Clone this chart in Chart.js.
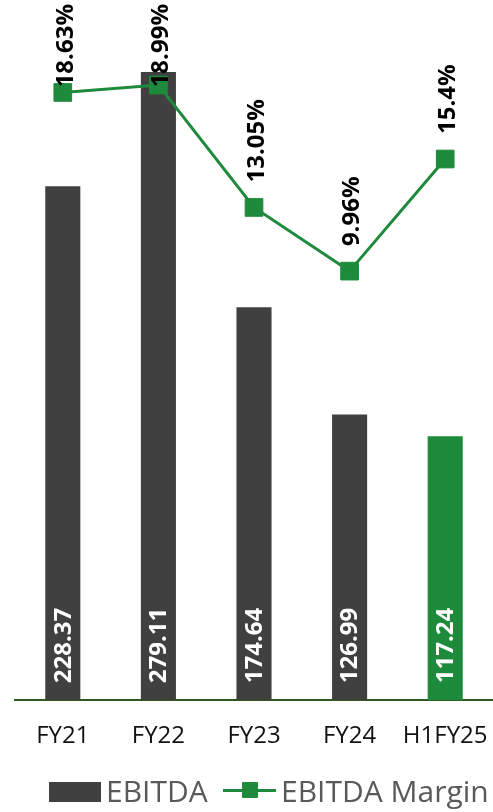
<!DOCTYPE html>
<html>
<head>
<meta charset="utf-8">
<script src="https://cdn.jsdelivr.net/npm/chart.js@4.4.1/dist/chart.umd.min.js"></script>
<style>
  html, body { margin: 0; padding: 0; background: #fff; overflow: hidden; }
  #wrap { position: relative; width: 493px; height: 812px; overflow: hidden; }
  #myChart { display: block; }
  #legend { position: absolute; left: 0; top: 0; width: 493px; height: 812px; pointer-events: none;
            font-family: "Open Sans", sans-serif; font-size: 30px; color: #595959; }
  #legend .sw, #legend .txt { position: absolute; }
  #legend .txt { line-height: 30px; top: 776px; white-space: nowrap; }
</style>
</head>
<body>
<div id="wrap">
  <canvas id="myChart" width="493" height="812"></canvas>
  <div id="legend">
    <div class="sw" style="left:49px;top:782px;width:52px;height:20px;background:#404040"></div>
    <div class="txt" style="left:106px">EBITDA</div>
    <div class="sw" style="left:223px;top:789px;width:53px;height:3px;background:#1e8a3b"></div>
    <div class="sw" style="left:242px;top:782px;width:16px;height:16px;background:#1e8a3b;border-radius:1px"></div>
    <div class="txt" style="left:281px">EBITDA Margin</div>
  </div>
</div>
<script>
'use strict';

let years = ['FY21', 'FY22', 'FY23', 'FY24', 'H1FY25'];
let ebitda = [228.37, 279.11, 174.64, 126.99, 117.24];
let margin = [18.63, 18.99, 13.05, 9.96, 15.4];

let grey = '#404040';
let green = '#1e8a3b';

let barColors = ebitda.map((v, i) => i === ebitda.length - 1 ? green : grey);

// numbers written sideways: inside the bars at the base, above the margin points
let valueLabels = {
  id: 'valueLabels',
  afterDatasetsDraw(chart) {
    let ctx = chart.ctx;
    let base = chart.scales.y.getPixelForValue(0);
    ctx.save();
    ctx.font = 'bold 24px "Open Sans"';
    ctx.textAlign = 'left';
    ctx.textBaseline = 'middle';

    chart.getDatasetMeta(1).data.forEach((bar, i) => {
      ctx.save();
      ctx.translate(bar.x + 1, base - 17);
      ctx.rotate(-Math.PI / 2);
      ctx.fillStyle = '#fff';
      ctx.fillText(String(ebitda[i]), 0, 0);
      ctx.restore();
    });

    chart.getDatasetMeta(0).data.forEach((pt, i) => {
      let txt = String(margin[i]) + '%';
      let w = ctx.measureText(txt).width;
      let start = pt.y - 25;
      if (start - w < 4) start = 4 + w;
      ctx.save();
      ctx.translate(pt.x + 3, start);
      ctx.rotate(-Math.PI / 2);
      ctx.fillStyle = '#000';
      ctx.fillText(txt, 0, 0);
      ctx.restore();
    });
    ctx.restore();
  }
};

let ctx = document.getElementById('myChart').getContext('2d');
let myChart = new Chart(ctx, {
  type: 'bar',
  data: {
    labels: years,
    datasets: [{
      type: 'line',
      label: 'EBITDA Margin',
      data: margin,
      yAxisID: 'y2',
      borderColor: green,
      backgroundColor: green,
      borderWidth: 3,
      pointStyle: 'rect',
      pointRadius: 12.5,
      pointBorderWidth: 1,
      pointBackgroundColor: green,
      pointBorderColor: green,
      tension: 0,
      clip: false,
      order: 0
    }, {
      label: 'EBITDA',
      data: ebitda,
      yAxisID: 'y',
      backgroundColor: barColors,
      categoryPercentage: 1,
      barPercentage: 0.367,
      order: 1
    }]
  },
  options: {
    responsive: false,
    animation: false,
    layout: { autoPadding: false, padding: { left: 15, right: 0, top: 3, bottom: 57 } },
    plugins: {
      legend: { display: false },
      tooltip: { enabled: false }
    },
    scales: {
      x: {
        // invisible tick marks only push the labels down
        grid: { display: true, drawOnChartArea: false, drawTicks: true, tickLength: 18, color: 'rgba(0,0,0,0)' },
        border: { display: true, color: '#2f5a1f', width: 2 },
        ticks: { color: '#111', font: { family: 'Open Sans', size: 24 }, padding: 4 },
        afterFit(scale) { scale.paddingLeft = 0; scale.paddingRight = 0; }
      },
      y: { display: false, min: 0, max: 309.8 },
      y2: { display: false, min: -10.86, max: 22.97 }
    }
  },
  plugins: [valueLabels]
});
</script>
</body>
</html>
